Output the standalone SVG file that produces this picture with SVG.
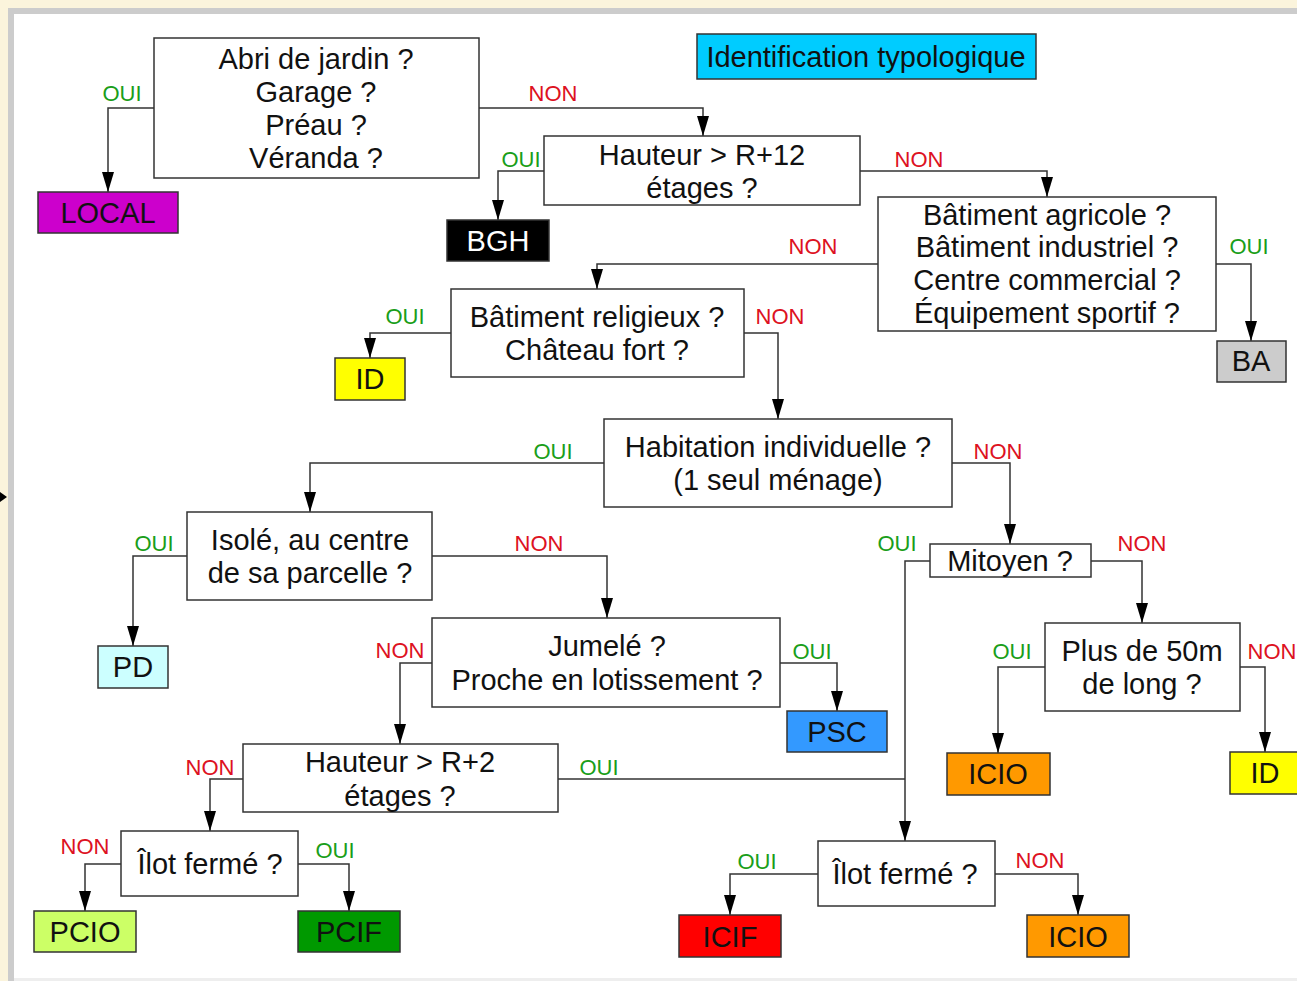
<svg xmlns="http://www.w3.org/2000/svg" width="1297" height="981" viewBox="0 0 1297 981">
<defs>
<marker id="arr" viewBox="0 0 20 12" refX="20" refY="6" markerWidth="20" markerHeight="12" markerUnits="userSpaceOnUse" orient="auto">
<path d="M0,0 L20,6 L0,12 Z" fill="#000" stroke="none"/>
</marker>
</defs>
<style>
.q{fill:#fff;stroke:#333;stroke-width:1.5}
.r{stroke:#333;stroke-width:1.5}
.t{font-family:"Liberation Sans",Arial,sans-serif;font-size:29px;fill:#111;text-anchor:middle}
.oui{font-family:"Liberation Sans",Arial,sans-serif;font-size:22px;fill:#1a9e1a;text-anchor:middle}
.non{font-family:"Liberation Sans",Arial,sans-serif;font-size:22px;fill:#dd1122;text-anchor:middle}
.c{fill:none;stroke:#333;stroke-width:1.5}
.c path{marker-end:url(#arr)}
</style>
<rect x="0" y="0" width="1297" height="981" fill="#fbf4dc"/>
<rect x="8" y="8" width="1289" height="973" fill="#cccccc"/>
<rect x="14" y="14" width="1283" height="964" fill="#ffffff"/>
<rect x="14" y="978" width="1283" height="3" fill="#eeeeee"/>
<polygon points="0,492 7,497 0,502" fill="#000"/>

<g id="connectors" class="c">
<path d="M154,108 H108 V192"/>
<path d="M479,108 H703 V136"/>
<path d="M544,171 H498 V220"/>
<path d="M860,171 H1047 V197"/>
<path d="M1216,264 H1251 V341"/>
<path d="M878,264 H597 V289"/>
<path d="M451,333 H370 V358"/>
<path d="M744,333 H778 V419"/>
<path d="M604,463 H310 V512"/>
<path d="M952,463 H1010 V544"/>
<path d="M187,556 H133 V646"/>
<path d="M432,556 H607 V618"/>
<path d="M780,663 H837 V711"/>
<path d="M432,663 H400 V744"/>
<path d="M243,779 H210 V831"/>
<path d="M558,779 H905" style="marker-end:none"/>
<path d="M930,561 H905 V841"/>
<path d="M121,864 H85 V911"/>
<path d="M298,864 H349 V911"/>
<path d="M1091,561 H1142 V623"/>
<path d="M1045,667 H998 V753"/>
<path d="M1240,667 H1265 V752"/>
<path d="M818,874 H730 V915"/>
<path d="M995,874 H1078 V915"/>
</g>

<g id="labels">
<text class="oui" x="122" y="101">OUI</text>
<text class="non" x="553" y="101">NON</text>
<text class="oui" x="521" y="167">OUI</text>
<text class="non" x="919" y="167">NON</text>
<text class="oui" x="1249" y="254">OUI</text>
<text class="non" x="813" y="254">NON</text>
<text class="oui" x="405" y="324">OUI</text>
<text class="non" x="780" y="324">NON</text>
<text class="oui" x="553" y="459">OUI</text>
<text class="non" x="998" y="459">NON</text>
<text class="oui" x="154" y="551">OUI</text>
<text class="non" x="539" y="551">NON</text>
<text class="oui" x="812" y="659">OUI</text>
<text class="non" x="400" y="658">NON</text>
<text class="non" x="210" y="775">NON</text>
<text class="oui" x="599" y="775">OUI</text>
<text class="non" x="85" y="854">NON</text>
<text class="oui" x="335" y="858">OUI</text>
<text class="oui" x="897" y="551">OUI</text>
<text class="non" x="1142" y="551">NON</text>
<text class="oui" x="1012" y="659">OUI</text>
<text class="non" x="1272" y="659">NON</text>
<text class="oui" x="757" y="869">OUI</text>
<text class="non" x="1040" y="868">NON</text>
</g>

<g id="title">
<rect x="697" y="34" width="339" height="45" fill="#00ccff" stroke="#333" stroke-width="1.5"/>
<text class="t" x="866" y="67">Identification typologique</text>
</g>

<g id="abri">
<rect class="q" x="154" y="38" width="325" height="140"/>
<text class="t" x="316" y="69">Abri de jardin ?</text>
<text class="t" x="316" y="102">Garage ?</text>
<text class="t" x="316" y="135">Préau ?</text>
<text class="t" x="316" y="168">Véranda ?</text>
</g>
<g id="local">
<rect class="r" x="38" y="192" width="140" height="41" fill="#cc00cc"/>
<text class="t" x="108" y="223">LOCAL</text>
</g>
<g id="hauteur12">
<rect class="q" x="544" y="136" width="316" height="69"/>
<text class="t" x="702" y="165">Hauteur &gt; R+12</text>
<text class="t" x="702" y="198">étages ?</text>
</g>
<g id="bgh">
<rect class="r" x="447" y="220" width="102" height="41" fill="#000"/>
<text class="t" x="498" y="251" style="fill:#fff">BGH</text>
</g>
<g id="agricole">
<rect class="q" x="878" y="197" width="338" height="134"/>
<text class="t" x="1047" y="225">Bâtiment agricole ?</text>
<text class="t" x="1047" y="257">Bâtiment industriel ?</text>
<text class="t" x="1047" y="290">Centre commercial ?</text>
<text class="t" x="1047" y="323">Équipement sportif ?</text>
</g>
<g id="ba">
<rect class="r" x="1217" y="341" width="69" height="41" fill="#cccccc"/>
<text class="t" x="1251" y="371">BA</text>
</g>
<g id="religieux">
<rect class="q" x="451" y="289" width="293" height="88"/>
<text class="t" x="597" y="327">Bâtiment religieux ?</text>
<text class="t" x="597" y="360">Château fort ?</text>
</g>
<g id="id1">
<rect class="r" x="335" y="358" width="70" height="42" fill="#ffff00"/>
<text class="t" x="370" y="389">ID</text>
</g>
<g id="habitation">
<rect class="q" x="604" y="419" width="348" height="88"/>
<text class="t" x="778" y="457">Habitation individuelle ?</text>
<text class="t" x="778" y="490">(1 seul ménage)</text>
</g>
<g id="isole">
<rect class="q" x="187" y="512" width="245" height="88"/>
<text class="t" x="310" y="550">Isolé, au centre</text>
<text class="t" x="310" y="583">de sa parcelle ?</text>
</g>
<g id="pd">
<rect class="r" x="98" y="646" width="70" height="42" fill="#ccffff"/>
<text class="t" x="133" y="677">PD</text>
</g>
<g id="jumele">
<rect class="q" x="432" y="618" width="348" height="89"/>
<text class="t" x="607" y="656">Jumelé ?</text>
<text class="t" x="607" y="690">Proche en lotissement ?</text>
</g>
<g id="psc">
<rect class="r" x="787" y="711" width="100" height="41" fill="#3399ff"/>
<text class="t" x="837" y="742">PSC</text>
</g>
<g id="hauteur2">
<rect class="q" x="243" y="744" width="315" height="68"/>
<text class="t" x="400" y="772">Hauteur &gt; R+2</text>
<text class="t" x="400" y="806">étages ?</text>
</g>
<g id="ilot1">
<rect class="q" x="121" y="831" width="177" height="65"/>
<text class="t" x="210" y="874">Îlot fermé ?</text>
</g>
<g id="pcio">
<rect class="r" x="34" y="911" width="102" height="41" fill="#ccff66"/>
<text class="t" x="85" y="942">PCIO</text>
</g>
<g id="pcif">
<rect class="r" x="298" y="911" width="102" height="41" fill="#009900"/>
<text class="t" x="349" y="942">PCIF</text>
</g>
<g id="mitoyen">
<rect class="q" x="930" y="544" width="161" height="33"/>
<text class="t" x="1010" y="571">Mitoyen ?</text>
</g>
<g id="plus50">
<rect class="q" x="1045" y="623" width="195" height="88"/>
<text class="t" x="1142" y="661">Plus de 50m</text>
<text class="t" x="1142" y="694">de long ?</text>
</g>
<g id="icio1">
<rect class="r" x="947" y="753" width="103" height="42" fill="#ff9900"/>
<text class="t" x="998" y="784">ICIO</text>
</g>
<g id="id2">
<rect class="r" x="1230" y="752" width="75" height="42" fill="#ffff00"/>
<text class="t" x="1265" y="783">ID</text>
</g>
<g id="ilot2">
<rect class="q" x="818" y="841" width="177" height="65"/>
<text class="t" x="905" y="884">Îlot fermé ?</text>
</g>
<g id="icif">
<rect class="r" x="679" y="915" width="102" height="42" fill="#ff0000"/>
<text class="t" x="730" y="947">ICIF</text>
</g>
<g id="icio2">
<rect class="r" x="1027" y="915" width="102" height="42" fill="#ff9900"/>
<text class="t" x="1078" y="947">ICIO</text>
</g>
</svg>
